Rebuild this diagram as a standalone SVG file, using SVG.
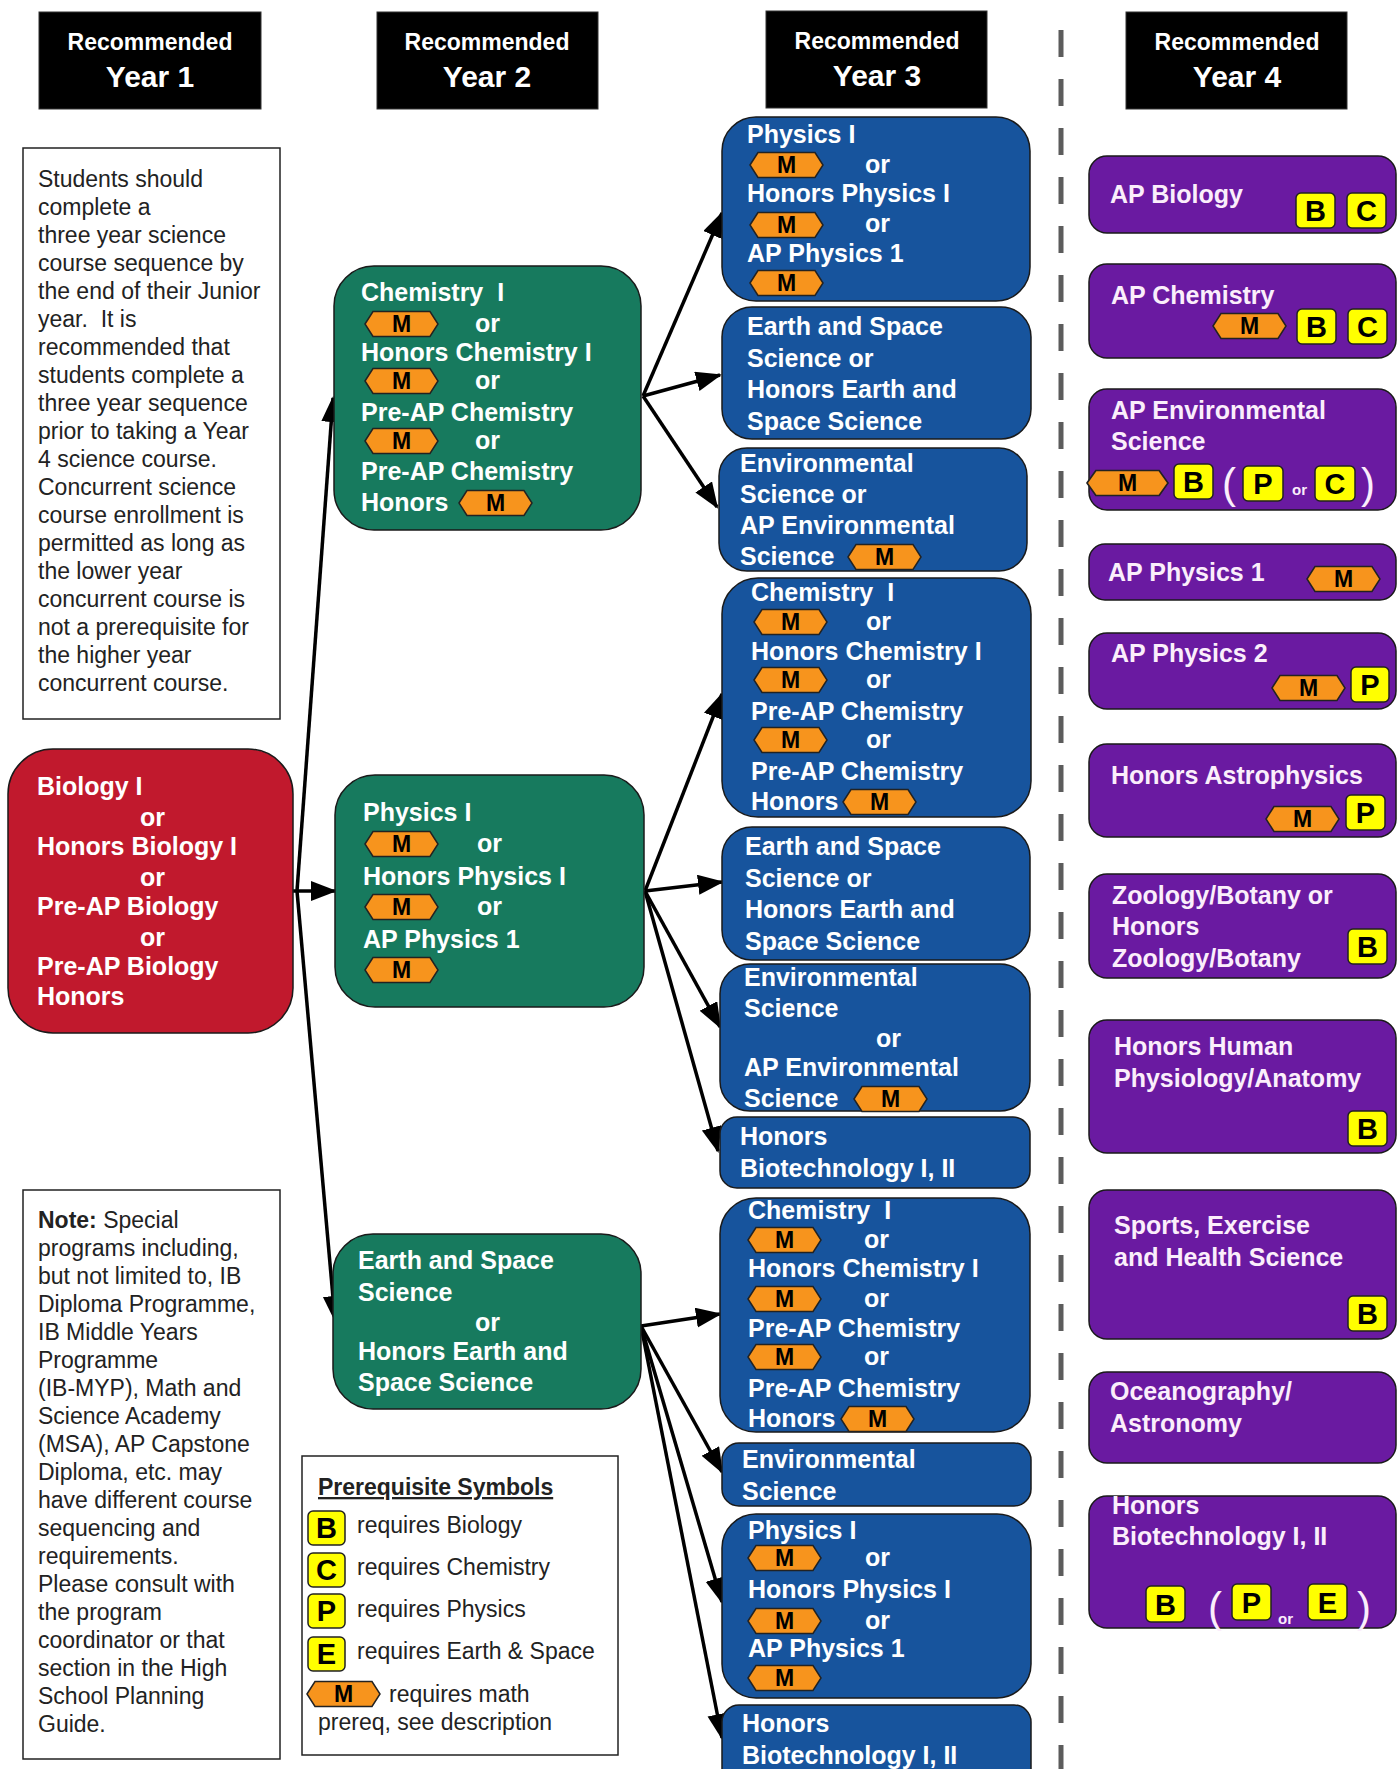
<svg xmlns="http://www.w3.org/2000/svg" width="1398" height="1769" viewBox="0 0 1398 1769">
<defs>
<style>
text{font-family:"Liberation Sans",Arial,Helvetica,sans-serif}
.hd{fill:#000;stroke:#333;stroke-width:1}
.ht{fill:#fff;font-weight:bold;font-size:23px;text-anchor:middle}
.hy{fill:#fff;font-weight:bold;font-size:30px;text-anchor:middle}
.nb{stroke:#1a1a1a;stroke-width:1.5}
.red{fill:#c1192d}
.grn{fill:#177a5e}
.blu{fill:#17549d}
.pur{fill:#6a1aa1}
.nt{fill:#fff;font-weight:bold;font-size:25px}
.pt{fill:#fbeefb;font-weight:bold;font-size:25px}
.bx{fill:#fff;stroke:#222;stroke-width:1.5}
.bt{fill:#222;font-size:23px}
.mt{fill:#000;font-weight:bold;font-size:23px;text-anchor:middle}
.yb{fill:#ffff00;stroke:#222;stroke-width:1.5}
.yt{fill:#000;font-weight:bold;font-size:29px;text-anchor:middle}
.par{fill:#fbeefb;font-size:42px}
.sor{fill:#fbeefb;font-weight:bold;font-size:15px}
.cn{stroke:#000;stroke-width:3.5;fill:none;marker-end:url(#ah)}
.dash{stroke:#5c5c5c;stroke-width:5;stroke-dasharray:27 22}
</style>
<polygon id="mh" points="0,12.5 8,0 65,0 73,12.5 65,25 8,25" fill="#f7941d" stroke="#222" stroke-width="1.5"/>
<marker id="ah" markerUnits="userSpaceOnUse" markerWidth="28" markerHeight="22" refX="24" refY="10" orient="auto"><path d="M0,0 L26,10 L0,20 z" fill="#000"/></marker>
</defs>
<rect width="1398" height="1769" fill="#fff"/>

<line class="dash" x1="1061" y1="30" x2="1061" y2="1769"/>

<g id="header-year1"><rect class="hd" x="39" y="12" width="222" height="97"/><text class="ht" x="150" y="50">Recommended</text><text class="hy" x="150" y="87">Year 1</text></g>
<g id="header-year2"><rect class="hd" x="377" y="12" width="221" height="97"/><text class="ht" x="487" y="50">Recommended</text><text class="hy" x="487" y="87">Year 2</text></g>
<g id="header-year3"><rect class="hd" x="766" y="11" width="221" height="97"/><text class="ht" x="877" y="49">Recommended</text><text class="hy" x="877" y="86">Year 3</text></g>
<g id="header-year4"><rect class="hd" x="1126" y="12" width="221" height="97"/><text class="ht" x="1237" y="50">Recommended</text><text class="hy" x="1237" y="87">Year 4</text></g>

<g id="connectors">
<line class="cn" x1="297" y1="891" x2="333" y2="398"/>
<line class="cn" x1="293" y1="891" x2="335" y2="891"/>
<line class="cn" x1="297" y1="891" x2="335" y2="1320"/>
<line class="cn" x1="643" y1="396" x2="722" y2="213"/>
<line class="cn" x1="643" y1="396" x2="720" y2="375"/>
<line class="cn" x1="643" y1="396" x2="717" y2="507"/>
<line class="cn" x1="645" y1="891" x2="722" y2="694"/>
<line class="cn" x1="645" y1="891" x2="722" y2="882"/>
<line class="cn" x1="645" y1="891" x2="720" y2="1027"/>
<line class="cn" x1="645" y1="891" x2="718" y2="1151"/>
<line class="cn" x1="641" y1="1326" x2="720" y2="1314"/>
<line class="cn" x1="641" y1="1326" x2="722" y2="1472"/>
<line class="cn" x1="641" y1="1326" x2="722" y2="1602"/>
<line class="cn" x1="641" y1="1326" x2="722" y2="1738"/>
</g>

<g id="info-box">
<rect class="bx" x="23" y="148" width="257" height="571"/>
<text class="bt"><tspan x="38" y="187">Students should</tspan><tspan x="38" dy="28">complete a</tspan><tspan x="38" dy="28">three year science</tspan><tspan x="38" dy="28">course sequence by</tspan><tspan x="38" dy="28">the end of their Junior</tspan><tspan x="38" dy="28" xml:space="preserve">year.  It is</tspan><tspan x="38" dy="28">recommended that</tspan><tspan x="38" dy="28">students complete a</tspan><tspan x="38" dy="28">three year sequence</tspan><tspan x="38" dy="28">prior to taking a Year</tspan><tspan x="38" dy="28">4 science course.</tspan><tspan x="38" dy="28">Concurrent science</tspan><tspan x="38" dy="28">course enrollment is</tspan><tspan x="38" dy="28">permitted as long as</tspan><tspan x="38" dy="28">the lower year</tspan><tspan x="38" dy="28">concurrent course is</tspan><tspan x="38" dy="28">not a prerequisite for</tspan><tspan x="38" dy="28">the higher year</tspan><tspan x="38" dy="28">concurrent course.</tspan></text>
</g>

<g id="note-box">
<rect class="bx" x="23" y="1190" width="257" height="569"/>
<text class="bt"><tspan x="38" y="1228" font-weight="bold">Note:</tspan><tspan> Special</tspan><tspan x="38" dy="28">programs including,</tspan><tspan x="38" dy="28">but not limited to, IB</tspan><tspan x="38" dy="28">Diploma Programme,</tspan><tspan x="38" dy="28">IB Middle Years</tspan><tspan x="38" dy="28">Programme</tspan><tspan x="38" dy="28">(IB-MYP), Math and</tspan><tspan x="38" dy="28">Science Academy</tspan><tspan x="38" dy="28">(MSA), AP Capstone</tspan><tspan x="38" dy="28">Diploma, etc. may</tspan><tspan x="38" dy="28">have different course</tspan><tspan x="38" dy="28">sequencing and</tspan><tspan x="38" dy="28">requirements.</tspan><tspan x="38" dy="28">Please consult with</tspan><tspan x="38" dy="28">the program</tspan><tspan x="38" dy="28">coordinator or that</tspan><tspan x="38" dy="28">section in the High</tspan><tspan x="38" dy="28">School Planning</tspan><tspan x="38" dy="28">Guide.</tspan></text>
</g>

<g id="legend">
<rect class="bx" x="302" y="1456" width="316" height="299"/>
<text class="bt" x="318" y="1495" font-weight="bold" text-decoration="underline">Prerequisite Symbols</text>
<rect class="yb" x="308" y="1511" width="37" height="34" rx="5"/><text class="yt" x="326.5" y="1538">B</text><text class="bt" x="357" y="1533">requires Biology</text>
<rect class="yb" x="308" y="1553" width="37" height="34" rx="5"/><text class="yt" x="326.5" y="1580">C</text><text class="bt" x="357" y="1575">requires Chemistry</text>
<rect class="yb" x="308" y="1594" width="37" height="34" rx="5"/><text class="yt" x="326.5" y="1621">P</text><text class="bt" x="357" y="1617">requires Physics</text>
<rect class="yb" x="308" y="1637" width="37" height="34" rx="5"/><text class="yt" x="326.5" y="1664">E</text><text class="bt" x="357" y="1659">requires Earth &amp; Space</text>
<use href="#mh" x="307" y="1681.5"/><text class="mt" x="343.5" y="1702">M</text><text class="bt" x="389" y="1702">requires math</text>
<text class="bt" x="318" y="1730">prereq, see description</text>
</g>

<g id="y1-biology">
<rect class="nb red" x="8" y="749" width="285" height="284" rx="45"/>
<text class="nt"><tspan x="37" y="795">Biology I</tspan><tspan x="140" y="826">or</tspan><tspan x="37" y="855">Honors Biology I</tspan><tspan x="140" y="886">or</tspan><tspan x="37" y="915">Pre-AP Biology</tspan><tspan x="140" y="946">or</tspan><tspan x="37" y="975">Pre-AP Biology</tspan><tspan x="37" y="1005">Honors</tspan></text>
</g>

<g id="y2-chemistry">
<rect class="nb grn" x="334" y="266" width="307" height="264" rx="40"/>
<text class="nt" xml:space="preserve"><tspan x="361" y="301">Chemistry  I</tspan><tspan x="475" y="332">or</tspan><tspan x="361" y="361">Honors Chemistry I</tspan><tspan x="475" y="389">or</tspan><tspan x="361" y="421">Pre-AP Chemistry</tspan><tspan x="475" y="449">or</tspan><tspan x="361" y="480">Pre-AP Chemistry</tspan><tspan x="361" y="511">Honors</tspan></text>
<use href="#mh" x="365" y="311.5"/><text class="mt" x="401.5" y="332">M</text>
<use href="#mh" x="365" y="368.5"/><text class="mt" x="401.5" y="389">M</text>
<use href="#mh" x="365" y="428.5"/><text class="mt" x="401.5" y="449">M</text>
<use href="#mh" x="459" y="490.5"/><text class="mt" x="495.5" y="511">M</text>
</g>

<g id="y2-physics">
<rect class="nb grn" x="335" y="775" width="309" height="232" rx="40"/>
<text class="nt"><tspan x="363" y="821">Physics I</tspan><tspan x="477" y="852">or</tspan><tspan x="363" y="885">Honors Physics I</tspan><tspan x="477" y="915">or</tspan><tspan x="363" y="948">AP Physics 1</tspan></text>
<use href="#mh" x="365" y="831.5"/><text class="mt" x="401.5" y="852">M</text>
<use href="#mh" x="365" y="894.5"/><text class="mt" x="401.5" y="915">M</text>
<use href="#mh" x="365" y="957.5"/><text class="mt" x="401.5" y="978">M</text>
</g>

<g id="y2-earth">
<rect class="nb grn" x="333" y="1234" width="308" height="175" rx="40"/>
<text class="nt"><tspan x="358" y="1269">Earth and Space</tspan><tspan x="358" y="1301">Science</tspan><tspan x="475" y="1331">or</tspan><tspan x="358" y="1360">Honors Earth and</tspan><tspan x="358" y="1391">Space Science</tspan></text>
</g>

<g id="y3-physics-a">
<rect class="nb blu" x="722" y="117" width="308" height="184" rx="34"/>
<text class="nt"><tspan x="747" y="143">Physics I</tspan><tspan x="865" y="173">or</tspan><tspan x="747" y="202">Honors Physics I</tspan><tspan x="865" y="232">or</tspan><tspan x="747" y="262">AP Physics 1</tspan></text>
<use href="#mh" x="750" y="152.5"/><text class="mt" x="786.5" y="173">M</text>
<use href="#mh" x="750" y="212.5"/><text class="mt" x="786.5" y="233">M</text>
<use href="#mh" x="750" y="270.5"/><text class="mt" x="786.5" y="291">M</text>
</g>

<g id="y3-earth-a">
<rect class="nb blu" x="722" y="307" width="309" height="132" rx="30"/>
<text class="nt"><tspan x="747" y="335">Earth and Space</tspan><tspan x="747" y="367">Science or</tspan><tspan x="747" y="398">Honors Earth and</tspan><tspan x="747" y="430">Space Science</tspan></text>
</g>

<g id="y3-env-a">
<rect class="nb blu" x="719" y="448" width="308" height="123" rx="28"/>
<text class="nt"><tspan x="740" y="472">Environmental</tspan><tspan x="740" y="503">Science or</tspan><tspan x="740" y="534">AP Environmental</tspan><tspan x="740" y="565">Science</tspan></text>
<use href="#mh" x="848" y="544.5"/><text class="mt" x="884.5" y="565">M</text>
</g>

<g id="y3-chemistry-b">
<rect class="nb blu" x="722" y="578" width="309" height="239" rx="36"/>
<text class="nt" xml:space="preserve"><tspan x="751" y="601">Chemistry  I</tspan><tspan x="866" y="630">or</tspan><tspan x="751" y="660">Honors Chemistry I</tspan><tspan x="866" y="688">or</tspan><tspan x="751" y="720">Pre-AP Chemistry</tspan><tspan x="866" y="748">or</tspan><tspan x="751" y="780">Pre-AP Chemistry</tspan><tspan x="751" y="810">Honors</tspan></text>
<use href="#mh" x="754" y="609.5"/><text class="mt" x="790.5" y="630">M</text>
<use href="#mh" x="754" y="667.5"/><text class="mt" x="790.5" y="688">M</text>
<use href="#mh" x="754" y="727.5"/><text class="mt" x="790.5" y="748">M</text>
<use href="#mh" x="843" y="789.5"/><text class="mt" x="879.5" y="810">M</text>
</g>

<g id="y3-earth-b">
<rect class="nb blu" x="722" y="827" width="308" height="133" rx="30"/>
<text class="nt"><tspan x="745" y="855">Earth and Space</tspan><tspan x="745" y="887">Science or</tspan><tspan x="745" y="918">Honors Earth and</tspan><tspan x="745" y="950">Space Science</tspan></text>
</g>

<g id="y3-env-b">
<rect class="nb blu" x="720" y="964" width="310" height="147" rx="30"/>
<text class="nt"><tspan x="744" y="986">Environmental</tspan><tspan x="744" y="1017">Science</tspan><tspan x="876" y="1047">or</tspan><tspan x="744" y="1076">AP Environmental</tspan><tspan x="744" y="1107">Science</tspan></text>
<use href="#mh" x="854" y="1086.5"/><text class="mt" x="890.5" y="1107">M</text>
</g>

<g id="y3-biotech-b">
<rect class="nb blu" x="720" y="1117" width="310" height="71" rx="17"/>
<text class="nt"><tspan x="740" y="1145">Honors</tspan><tspan x="740" y="1177">Biotechnology I, II</tspan></text>
</g>

<g id="y3-chemistry-c">
<rect class="nb blu" x="720" y="1198" width="310" height="234" rx="36"/>
<text class="nt" xml:space="preserve"><tspan x="748" y="1219">Chemistry  I</tspan><tspan x="864" y="1248">or</tspan><tspan x="748" y="1277">Honors Chemistry I</tspan><tspan x="864" y="1307">or</tspan><tspan x="748" y="1337">Pre-AP Chemistry</tspan><tspan x="864" y="1365">or</tspan><tspan x="748" y="1397">Pre-AP Chemistry</tspan><tspan x="748" y="1427">Honors</tspan></text>
<use href="#mh" x="748" y="1227.5"/><text class="mt" x="784.5" y="1248">M</text>
<use href="#mh" x="748" y="1286.5"/><text class="mt" x="784.5" y="1307">M</text>
<use href="#mh" x="748" y="1344.5"/><text class="mt" x="784.5" y="1365">M</text>
<use href="#mh" x="841" y="1406.5"/><text class="mt" x="877.5" y="1427">M</text>
</g>

<g id="y3-env-c">
<rect class="nb blu" x="722" y="1443" width="309" height="63" rx="17"/>
<text class="nt"><tspan x="742" y="1468">Environmental</tspan><tspan x="742" y="1500">Science</tspan></text>
</g>

<g id="y3-physics-c">
<rect class="nb blu" x="722" y="1514" width="309" height="184" rx="34"/>
<text class="nt"><tspan x="748" y="1539">Physics I</tspan><tspan x="865" y="1566">or</tspan><tspan x="748" y="1598">Honors Physics I</tspan><tspan x="865" y="1629">or</tspan><tspan x="748" y="1657">AP Physics 1</tspan></text>
<use href="#mh" x="748" y="1545.5"/><text class="mt" x="784.5" y="1566">M</text>
<use href="#mh" x="748" y="1608.5"/><text class="mt" x="784.5" y="1629">M</text>
<use href="#mh" x="748" y="1665.5"/><text class="mt" x="784.5" y="1686">M</text>
</g>

<g id="y3-biotech-c">
<rect class="nb blu" x="722" y="1705" width="309" height="100" rx="17"/>
<text class="nt"><tspan x="742" y="1732">Honors</tspan><tspan x="742" y="1764">Biotechnology I, II</tspan></text>
</g>

<g id="y4-ap-biology">
<rect class="nb pur" x="1089" y="156" width="307" height="77" rx="18"/>
<text class="pt" x="1110" y="203">AP Biology</text>
<rect class="yb" x="1296" y="193" width="39" height="35" rx="5"/><text class="yt" x="1315.5" y="221">B</text>
<rect class="yb" x="1347" y="193" width="39" height="35" rx="5"/><text class="yt" x="1366.5" y="221">C</text>
</g>

<g id="y4-ap-chemistry">
<rect class="nb pur" x="1089" y="264" width="307" height="94" rx="18"/>
<text class="pt" x="1111" y="304">AP Chemistry</text>
<use href="#mh" x="1213" y="313.5"/><text class="mt" x="1249.5" y="334">M</text>
<rect class="yb" x="1297" y="309" width="39" height="35" rx="5"/><text class="yt" x="1316.5" y="337">B</text>
<rect class="yb" x="1348" y="309" width="39" height="35" rx="5"/><text class="yt" x="1367.5" y="337">C</text>
</g>

<g id="y4-ap-env">
<rect class="nb pur" x="1089" y="389" width="307" height="121" rx="18"/>
<text class="pt"><tspan x="1111" y="419">AP Environmental</tspan><tspan x="1111" y="450">Science</tspan></text>
<use href="#mh" transform="translate(1087,470.5) scale(1.11,1)"/><text class="mt" x="1127.5" y="491">M</text>
<rect class="yb" x="1174" y="464" width="39" height="35" rx="5"/><text class="yt" x="1193.5" y="492">B</text>
<text class="par" x="1222" y="498">(</text>
<rect class="yb" x="1243" y="466" width="40" height="35" rx="5"/><text class="yt" x="1263" y="494">P</text>
<text class="sor" x="1292" y="495">or</text>
<rect class="yb" x="1315" y="466" width="40" height="35" rx="5"/><text class="yt" x="1335" y="494">C</text>
<text class="par" x="1361" y="498">)</text>
</g>

<g id="y4-ap-physics1">
<rect class="nb pur" x="1089" y="544" width="307" height="56" rx="16"/>
<text class="pt" x="1108" y="581">AP Physics 1</text>
<use href="#mh" x="1307" y="566.5"/><text class="mt" x="1343.5" y="587">M</text>
</g>

<g id="y4-ap-physics2">
<rect class="nb pur" x="1089" y="633" width="307" height="76" rx="18"/>
<text class="pt" x="1111" y="662">AP Physics 2</text>
<use href="#mh" x="1272" y="675.5"/><text class="mt" x="1308.5" y="696">M</text>
<rect class="yb" x="1351" y="667" width="38" height="35" rx="5"/><text class="yt" x="1370" y="695">P</text>
</g>

<g id="y4-astrophysics">
<rect class="nb pur" x="1089" y="744" width="307" height="93" rx="18"/>
<text class="pt" x="1111" y="784">Honors Astrophysics</text>
<use href="#mh" x="1266" y="806.5"/><text class="mt" x="1302.5" y="827">M</text>
<rect class="yb" x="1346" y="795" width="39" height="35" rx="5"/><text class="yt" x="1365.5" y="823">P</text>
</g>

<g id="y4-zoology">
<rect class="nb pur" x="1089" y="874" width="307" height="104" rx="18"/>
<text class="pt"><tspan x="1112" y="904">Zoology/Botany or</tspan><tspan x="1112" y="935">Honors</tspan><tspan x="1112" y="967">Zoology/Botany</tspan></text>
<rect class="yb" x="1348" y="929" width="39" height="35" rx="5"/><text class="yt" x="1367.5" y="957">B</text>
</g>

<g id="y4-physiology">
<rect class="nb pur" x="1089" y="1020" width="307" height="133" rx="18"/>
<text class="pt"><tspan x="1114" y="1055">Honors Human</tspan><tspan x="1114" y="1087">Physiology/Anatomy</tspan></text>
<rect class="yb" x="1348" y="1111" width="39" height="35" rx="5"/><text class="yt" x="1367.5" y="1139">B</text>
</g>

<g id="y4-sports">
<rect class="nb pur" x="1089" y="1190" width="307" height="149" rx="18"/>
<text class="pt"><tspan x="1114" y="1234">Sports, Exercise</tspan><tspan x="1114" y="1266">and Health Science</tspan></text>
<rect class="yb" x="1348" y="1296" width="39" height="35" rx="5"/><text class="yt" x="1367.5" y="1324">B</text>
</g>

<g id="y4-oceanography">
<rect class="nb pur" x="1089" y="1372" width="307" height="91" rx="18"/>
<text class="pt"><tspan x="1110" y="1400">Oceanography/</tspan><tspan x="1110" y="1432">Astronomy</tspan></text>
</g>

<g id="y4-biotech">
<rect class="nb pur" x="1089" y="1496" width="307" height="132" rx="18"/>
<text class="pt"><tspan x="1112" y="1514">Honors</tspan><tspan x="1112" y="1545">Biotechnology I, II</tspan></text>
<rect class="yb" x="1146" y="1586" width="39" height="36" rx="5"/><text class="yt" x="1165.5" y="1615">B</text>
<text class="par" x="1208" y="1622">(</text>
<rect class="yb" x="1232" y="1584" width="39" height="36" rx="5"/><text class="yt" x="1251.5" y="1613">P</text>
<text class="sor" x="1278" y="1624" font-size="20">or</text>
<rect class="yb" x="1308" y="1584" width="39" height="36" rx="5"/><text class="yt" x="1327.5" y="1613">E</text>
<text class="par" x="1357" y="1622">)</text>
</g>
</svg>
